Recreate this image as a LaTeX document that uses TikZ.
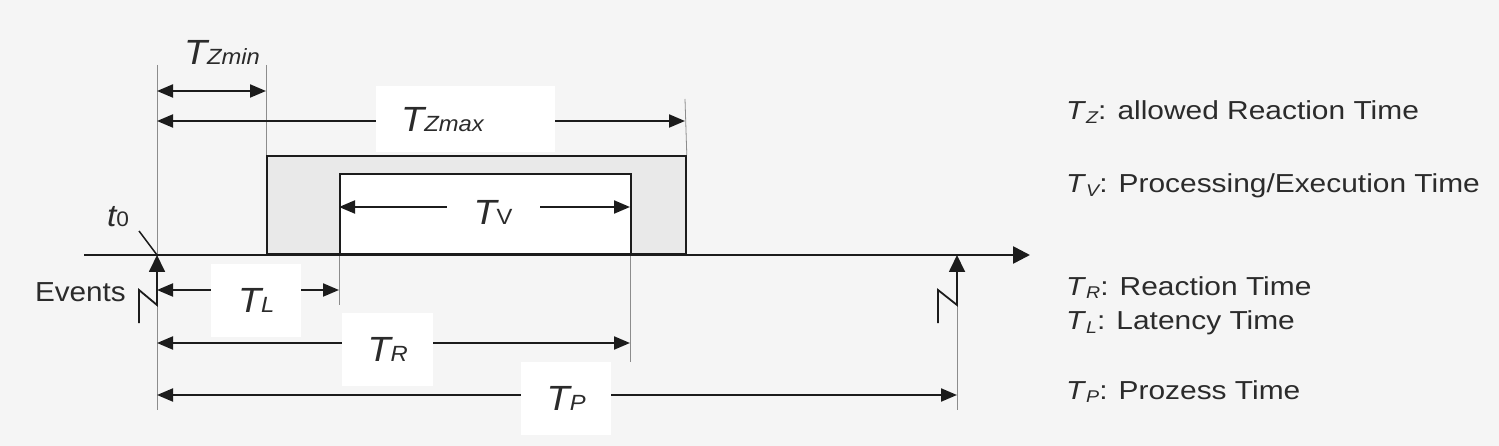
\documentclass[tikz,border=0pt]{standalone}
\usepackage{fontspec}
\setmainfont{Liberation Sans}
\newfontfamily\legfont[FakeStretch=1.15]{Liberation Sans}
\newfontfamily\dimfont[FakeStretch=1.08]{Liberation Sans}
\usepackage{xcolor}
\usepackage{tikz}
\usetikzlibrary{arrows.meta,positioning}
\definecolor{bg}{HTML}{F5F5F5}
\definecolor{zonegray}{HTML}{E9E9E9}
\definecolor{ink}{HTML}{1C1C1C}
\definecolor{txt}{HTML}{2B2B2B}
\newcommand{\Tdim}[1]{{\fontsize{35}{35}\selectfont\itshape T}{\fontsize{22}{22}\selectfont #1}}
\newcommand{\Tleg}[1]{\textit{T}\raisebox{-3.5pt}{\fontsize{17}{17}\selectfont\itshape #1}}
\begin{document}
\begin{tikzpicture}[x=1pt,y=-1pt,>={Triangle[length=16pt,width=13pt]},
  axis/.style={draw=ink,line width=2.6pt,-{Triangle[length=17pt,width=17pt]}},
  dim/.style={draw=ink,line width=2pt,<->},
  guide/.style={draw=black!45,line width=0.8pt},
  evt/.style={draw=ink,line width=1.8pt,-{Triangle[length=17pt,width=16pt]}},
  frame/.style={draw=ink,line width=1.8pt,anchor=south west,inner sep=0pt},
  dlab/.style={fill=white,inner sep=0pt,text=txt,font=\dimfont},
  leg/.style={anchor=base west,inner sep=0pt,text=txt,font=\legfont\fontsize{26}{26}\selectfont}]
\fill[bg] (0,0) rectangle (1499,446);
\useasboundingbox (0,0) rectangle (1499,446);

% points on the time axis
\coordinate (axs) at (84,255);
\coordinate (axe) at (1030,255);
\coordinate (t0) at (157,255);
\coordinate (tmin) at (266,255);
\coordinate (vs) at (339,255);
\coordinate (ve) at (630,255);
\coordinate (tmax) at (685,255);
\coordinate (tp) at (957,255);
% heights of the dimension lines
\coordinate (rtop) at (0,65);
\coordinate (rtop2) at (0,99);
\coordinate (rzmin) at (0,91);
\coordinate (rzmax) at (0,121);
\coordinate (rv) at (0,207);
\coordinate (rl) at (0,290);
\coordinate (rlow) at (0,305);
\coordinate (rr) at (0,343);
\coordinate (rr2) at (0,362);
\coordinate (rp) at (0,395);
\coordinate (rbot) at (0,410);

% allowed reaction window and processing block
\node[frame,fill=zonegray,minimum width=419pt,minimum height=98pt] (zone) at (tmin) {};
\node[frame,fill=white,minimum width=291pt,minimum height=80pt] (proc) at (vs) {};

% guide lines
\draw[guide] (t0 |- rtop) -- (t0 |- rbot);
\draw[guide] (tmin |- rtop) -- (zone.north west);
\draw[guide] (tmax |- rtop2) -- (zone.north east);
\draw[guide] (vs) -- (vs |- rlow);
\draw[guide] (ve) -- (ve |- rr2);
\draw[guide] (tp |- rlow) -- (tp |- rbot);

% time axis
\draw[axis] (axs) -- (axe);

% dimension lines
\draw[dim] (t0 |- rzmin) -- (tmin |- rzmin);
\draw[dim] (t0 |- rzmax) -- (tmax |- rzmax);
\draw[dim] (vs |- rv) -- (ve |- rv);
\draw[dim] (t0 |- rl) -- (vs |- rl);
\draw[dim] (t0 |- rr) -- (ve |- rr);
\draw[dim] (t0 |- rp) -- (tp |- rp);

% labels on the dimension lines
\node[dlab,fill=none] (lzmin) at (222,52) {\Tdim{\itshape Zmin}};
\node[dlab,anchor=north west,minimum height=66pt,text width=129pt,inner xsep=25pt,align=left] (lzmax) at (376,86) {\Tdim{\itshape Zmax}};
\node[dlab,minimum width=93pt,minimum height=34pt] (lv) at (493,212) {\Tdim{V}};
\node[dlab,anchor=north west,minimum width=90pt,minimum height=73pt] (ll) at (211,264) {\Tdim{\itshape L}};
\node[dlab,anchor=north west,minimum width=91pt,minimum height=73pt] (lr) at (342,313) {\Tdim{\itshape R}};
\node[dlab,anchor=north west,minimum width=90pt,minimum height=73pt] (lp) at (521,362) {\Tdim{\itshape P}};

% start point and events
\node[dlab,fill=none] (lt0) at (118,217) {{\fontsize{31}{31}\selectfont\itshape t}{\fontsize{21}{21}\selectfont 0}};
\coordinate (t0tick) at (139,231);
\draw[ink,line width=1.5pt] (t0tick) -- (t0);
\node[dlab,fill=none,anchor=east,font=\dimfont\fontsize{27.5}{27.5}\selectfont] (lev) at (126,292) {Events};
\coordinate (ev0) at (139,323);
\coordinate (ev1) at (938,323);
\draw[evt] (ev0) -- ++(0,-33) -- ++(18,15) -- (t0);
\draw[evt] (ev1) -- ++(0,-33) -- ++(19,15) -- (tp);

% legend
\node[leg] (kz) at (1066,120) {\Tleg{Z}: allowed Reaction Time};
\node[leg] (kv) at (1066,193) {\Tleg{V}: Processing/Execution Time};
\node[leg] (kr) at (1066,295) {\Tleg{R}: Reaction Time};
\node[leg] (kl) at (1066,330) {\Tleg{L}: Latency Time};
\node[leg] (kp) at (1066,399) {\Tleg{P}: Prozess Time};
\end{tikzpicture}
\end{document}
